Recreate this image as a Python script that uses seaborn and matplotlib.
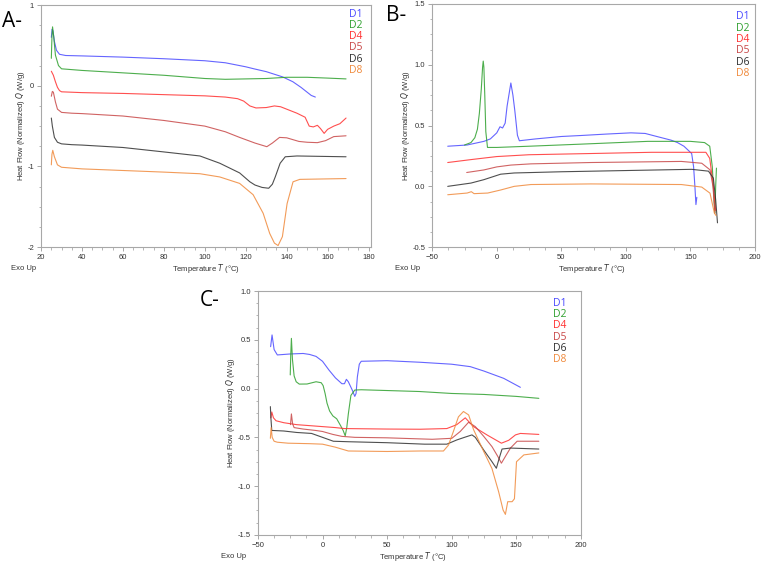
import numpy as np
import pandas as pd
import matplotlib
matplotlib.use("Agg")
import matplotlib.pyplot as plt
from matplotlib.ticker import MultipleLocator
import seaborn as sns

# ---- Panel A data (temperature in C, heat flow in W/g) ----
a_d1_t = [25, 25.4, 25.8, 26.5, 27.5, 29, 32, 40, 60, 80, 100, 110, 120, 124, 130, 138, 143, 147, 150, 152, 154]
a_d1_q = [0.60, 0.70, 0.68, 0.55, 0.44, 0.39, 0.375, 0.37, 0.355, 0.335, 0.31, 0.285, 0.235, 0.21, 0.175, 0.11, 0.05, -0.02, -0.08, -0.12, -0.14]
a_d2_t = [25, 25.3, 25.6, 26.2, 27, 28.5, 30, 40, 60, 80, 100, 110, 120, 130, 140, 150, 160, 169]
a_d2_q = [0.34, 0.60, 0.73, 0.60, 0.38, 0.25, 0.21, 0.19, 0.16, 0.13, 0.09, 0.08, 0.085, 0.09, 0.105, 0.105, 0.095, 0.085]
a_d4_t = [25, 26, 27, 28, 29, 30, 35, 40, 60, 80, 100, 110, 116, 119, 122, 125, 130, 134, 137, 140, 145, 149,
          151, 153, 155, 156.5, 158.3, 160, 163, 166, 169]
a_d4_q = [0.18, 0.13, 0.05, -0.02, -0.06, -0.075, -0.08, -0.085, -0.095, -0.11, -0.125, -0.14, -0.16, -0.19, -0.25,
          -0.275, -0.27, -0.25, -0.26, -0.29, -0.34, -0.39, -0.50, -0.51, -0.49, -0.53, -0.59, -0.54, -0.50, -0.47, -0.40]
a_d5_t = [25, 25.5, 26, 27, 28, 30, 35, 40, 60, 80, 100, 110, 117, 124.5, 130.3, 133, 136.5, 140, 146, 150, 155, 159, 163, 169]
a_d5_q = [-0.13, -0.07, -0.08, -0.20, -0.29, -0.33, -0.34, -0.345, -0.375, -0.43, -0.50, -0.57, -0.64, -0.71, -0.755,
          -0.71, -0.64, -0.645, -0.69, -0.70, -0.705, -0.68, -0.63, -0.62]
a_d6_t = [25, 25.5, 26.5, 28, 30, 35, 40, 60, 80, 97.6, 107.3, 117, 122, 124.5, 128, 131.2, 133, 134.4, 136.8, 139.3, 145, 169]
a_d6_q = [-0.40, -0.50, -0.64, -0.70, -0.72, -0.73, -0.735, -0.765, -0.82, -0.87, -0.96, -1.08, -1.19, -1.23, -1.26,
          -1.27, -1.22, -1.13, -0.96, -0.88, -0.87, -0.88]
a_d8_t = [25, 25.3, 25.7, 26.5, 28, 30, 40, 60, 80, 97.6, 107.3, 117, 123.6, 128.5, 131.7, 134, 135.8, 137.9, 140.2,
          143.1, 146.4, 169]
a_d8_q = [-0.98, -0.85, -0.80, -0.88, -0.98, -1.01, -1.03, -1.05, -1.07, -1.09, -1.13, -1.21, -1.35, -1.58, -1.83,
          -1.95, -1.98, -1.87, -1.46, -1.19, -1.16, -1.15]

# ---- Panel B data ----
b_d1_t = [-38, -23, -10, -5, -2, 0, 2.5, 4.5, 6.5, 8, 10.9, 12.5, 14, 16, 17.5, 30, 50, 65, 85, 104, 115, 124, 135,
          140, 145, 148, 151, 152.5, 153.5, 154.3, 155]
b_d1_q = [0.33, 0.34, 0.37, 0.39, 0.42, 0.44, 0.49, 0.48, 0.52, 0.66, 0.85, 0.75, 0.62, 0.42, 0.375, 0.39, 0.41, 0.418,
          0.43, 0.44, 0.435, 0.41, 0.38, 0.36, 0.33, 0.30, 0.27, 0.16, 0.0, -0.15, -0.09]
b_d2_t = [-25, -20, -17, -15, -13.5, -12, -11, -10.5, -10, -9.3, -8.5, -7.2, -5, 0, 25, 65, 117, 150, 161, 165, 167,
          168.3, 169, 169.6, 170.2]
b_d2_q = [0.34, 0.36, 0.40, 0.47, 0.60, 0.80, 0.98, 1.03, 0.98, 0.75, 0.45, 0.32, 0.32, 0.32, 0.33, 0.347, 0.37, 0.37,
          0.36, 0.33, 0.16, -0.11, -0.22, 0.0, 0.15]
b_d4_t = [-38, -20, 0, 25, 73, 120, 151, 162, 165, 167.8, 169.6]
b_d4_q = [0.196, 0.22, 0.245, 0.26, 0.27, 0.28, 0.28, 0.28, 0.23, 0.0, -0.2]
b_d5_t = [-23.3, -10, 0, 10.9, 26.5, 73, 143, 158.8, 165.2, 167.5, 169]
b_d5_q = [0.114, 0.135, 0.16, 0.175, 0.185, 0.196, 0.205, 0.19, 0.136, 0.0, -0.22]
b_d6_t = [-38, -20, -10, 3, 13.5, 50, 100, 151, 164, 167.8, 169.6, 171]
b_d6_q = [0.0, 0.027, 0.055, 0.1, 0.11, 0.12, 0.13, 0.14, 0.125, 0.068, -0.11, -0.30]
b_d8_t = [-38, -23, -19.7, -17.6, -7, 3, 13.5, 26.5, 73, 143, 158.8, 165.2, 168.6, 169.9]
b_d8_q = [-0.069, -0.055, -0.044, -0.06, -0.055, -0.03, 0.0, 0.015, 0.02, 0.015, -0.006, -0.056, -0.22, -0.24]

# ---- Panel C data ----
c_d1_t = [-40.2, -39.1, -37.5, -35, -25, -15, -10, -5, 0, 5, 10, 15, 17, 18.5, 20, 23, 25, 26, 27, 28.5, 30, 50,
          75.6, 100, 114.5, 125, 140.4, 153.3]
c_d1_q = [0.43, 0.55, 0.40, 0.345, 0.355, 0.36, 0.35, 0.33, 0.28, 0.19, 0.11, 0.05, 0.05, 0.095, 0.07, -0.014, -0.08,
          -0.05, 0.12, 0.25, 0.28, 0.286, 0.27, 0.25, 0.225, 0.18, 0.105, 0.013]
c_d2_t = [-25, -24.6, -24.1, -23.3, -22, -20.4, -18, -12, -5, -1, 0.5, 2, 3.5, 5.5, 8, 11, 14, 16, 17.6, 18.8, 20,
          22, 25, 30, 50, 75, 100, 125, 150, 167.6]
c_d2_q = [0.14, 0.35, 0.515, 0.30, 0.13, 0.07, 0.046, 0.047, 0.07, 0.06, 0.03, -0.05, -0.15, -0.23, -0.28, -0.31,
          -0.38, -0.43, -0.485, -0.40, -0.26, -0.07, -0.015, -0.012, -0.02, -0.03, -0.05, -0.06, -0.08, -0.10]
c_d4_t = [-40, -39.3, -38, -36, -30, -20, -10, 0, 10, 17, 50, 75.6, 96.3, 104, 110.6, 117, 127.4, 138.6, 144.3,
          149.5, 153.3, 167.6]
c_d4_q = [-0.30, -0.24, -0.30, -0.33, -0.35, -0.37, -0.38, -0.39, -0.40, -0.41, -0.415, -0.417, -0.41, -0.37, -0.30,
          -0.39, -0.475, -0.56, -0.53, -0.475, -0.46, -0.47]
c_d5_t = [-24.8, -24.1, -23.2, -22, -15, -5, 0, 8, 15, 25, 50, 75.6, 85, 100.2, 106.7, 113.2, 118.4, 124.9, 131.3,
          136, 138.6, 142.4, 145.6, 150.8, 167.6]
c_d5_q = [-0.37, -0.26, -0.36, -0.40, -0.415, -0.43, -0.44, -0.47, -0.49, -0.50, -0.505, -0.516, -0.52, -0.51, -0.44,
          -0.345, -0.39, -0.49, -0.595, -0.70, -0.765, -0.68, -0.61, -0.54, -0.54]
c_d6_t = [-40.4, -40, -39.3, -38, -30, -20, -8.5, 0, 8.4, 20, 50, 79, 96.3, 104, 110, 115.8, 118.4, 124.9, 131.3,
          134.7, 137, 139.1, 145.6, 167.6]
c_d6_q = [-0.185, -0.30, -0.43, -0.43, -0.435, -0.45, -0.46, -0.50, -0.54, -0.545, -0.555, -0.57, -0.57, -0.527,
          -0.50, -0.475, -0.50, -0.63, -0.75, -0.817, -0.71, -0.62, -0.61, -0.62]
c_d8_t = [-40.4, -39.8, -39.0, -37.5, -35, -26.7, -10, 0, 9.7, 20, 50, 75.6, 93.7, 97.6, 101.4, 105.3, 109.2, 113.2,
          117, 124.9, 131.3, 136.5, 139.9, 141.7, 143.5, 146.9, 148.7, 150.3, 156, 167.6]
c_d8_q = [-0.51, -0.40, -0.50, -0.54, -0.55, -0.56, -0.565, -0.57, -0.60, -0.64, -0.645, -0.64, -0.64, -0.58, -0.44,
          -0.29, -0.235, -0.27, -0.42, -0.645, -0.82, -1.06, -1.245, -1.29, -1.16, -1.16, -1.13, -0.75, -0.68, -0.66]

samples = ["D1", "D2", "D4", "D5", "D6", "D8"]
colors = ["#4a4aff", "#2ea02e", "#ff3030", "#c84848", "#303030", "#f08a3c"]


def build_frame(series):
    """Stack the (temps, values) pairs of one panel into a long table."""
    parts = []
    for name, (t, q) in zip(samples, series):
        parts.append(pd.DataFrame({"T": t, "Q": q, "sample": name}))
    return pd.concat(parts, ignore_index=True)


panels = {
    "A-": build_frame([(a_d1_t, a_d1_q), (a_d2_t, a_d2_q), (a_d4_t, a_d4_q),
                       (a_d5_t, a_d5_q), (a_d6_t, a_d6_q), (a_d8_t, a_d8_q)]),
    "B-": build_frame([(b_d1_t, b_d1_q), (b_d2_t, b_d2_q), (b_d4_t, b_d4_q),
                       (b_d5_t, b_d5_q), (b_d6_t, b_d6_q), (b_d8_t, b_d8_q)]),
    "C-": build_frame([(c_d1_t, c_d1_q), (c_d2_t, c_d2_q), (c_d4_t, c_d4_q),
                       (c_d5_t, c_d5_q), (c_d6_t, c_d6_q), (c_d8_t, c_d8_q)]),
}

# axes placement and scales for each panel
layout = {
    "A-": dict(rect=[0.054, 0.561, 0.433, 0.430], xlim=(20, 181), ylim=(-2, 1),
               xmaj=20, xmin=5, ymaj=1, ymin=0.25, yfmt="{:.0f}",
               leg=(0.935, 0.963), ylab_x=-0.064, exo_x=-0.052, xlab=(0.5, -0.087),
               letter=(0.003, 0.962)),
    "B-": dict(rect=[0.568, 0.561, 0.424, 0.432], xlim=(-50, 200), ylim=(-0.5, 1.5),
               xmaj=50, xmin=12.5, ymaj=0.5, ymin=0.125, yfmt="{:.1f}",
               leg=(0.94, 0.947), ylab_x=-0.084, exo_x=-0.077, xlab=(0.495, -0.087),
               letter=(0.507, 0.972)),
    "C-": dict(rect=[0.339, 0.050, 0.424, 0.433], xlim=(-50, 200), ylim=(-1.5, 1.0),
               xmaj=50, xmin=12.5, ymaj=0.5, ymin=0.125, yfmt="{:.1f}",
               leg=(0.915, 0.951), ylab_x=-0.084, exo_x=-0.075, xlab=(0.48, -0.09),
               letter=(0.262, 0.466)),
}

sns.set_theme(style="white")
plt.rcParams["font.family"] = ["Liberation Sans", "DejaVu Sans"]

fig = plt.figure(figsize=(7.61, 5.63), dpi=100)

for key, df in panels.items():
    cfg = layout[key]
    ax = fig.add_axes(cfg["rect"])
    sns.lineplot(data=df, x="T", y="Q", hue="sample", palette=colors, hue_order=samples,
                 sort=False, estimator=None, legend=False, linewidth=0.8, alpha=0.85, ax=ax)
    ax.set_xlim(*cfg["xlim"])
    ax.set_ylim(*cfg["ylim"])
    ax.xaxis.set_major_locator(MultipleLocator(cfg["xmaj"]))
    ax.xaxis.set_minor_locator(MultipleLocator(cfg["xmin"]))
    ax.yaxis.set_major_locator(MultipleLocator(cfg["ymaj"]))
    ax.yaxis.set_minor_locator(MultipleLocator(cfg["ymin"]))
    ax.yaxis.set_major_formatter(matplotlib.ticker.FuncFormatter(lambda v, p, f=cfg["yfmt"]: f.format(v)))
    ax.tick_params(which="major", direction="out", length=3, width=0.6, color="#999999",
                   labelsize=5.5, labelcolor="#333333", pad=2, bottom=True, left=True)
    ax.tick_params(which="minor", direction="out", length=1.8, width=0.5, color="#999999",
                   bottom=True, left=True)
    for sp in ax.spines.values():
        sp.set_color("#a8a8a8")
        sp.set_linewidth(0.8)

    ax.set_xlabel("Temperature $T$ (°C)", fontsize=5.5, color="#333333")
    ax.xaxis.set_label_coords(*cfg["xlab"])
    ax.xaxis.label.set_va("center")
    ax.set_ylabel("Heat Flow (Normalized) $Q$ (W/g)", fontsize=5.5, color="#333333")
    ax.yaxis.set_label_coords(cfg["ylab_x"], 0.5)
    ax.yaxis.label.set_va("center")
    ax.text(cfg["exo_x"], cfg["xlab"][1], "Exo Up", transform=ax.transAxes, fontsize=5.5,
            color="#333333", ha="center", va="center")

    # coloured sample names in the top right corner
    lx, ly = cfg["leg"]
    for i, (name, col) in enumerate(zip(samples, colors)):
        ax.text(lx, ly - i * 0.0465, name, transform=ax.transAxes, color=col,
                fontsize=7.5, family="Open Sans", ha="left", va="center")

    fig.text(cfg["letter"][0], cfg["letter"][1], key, fontsize=15, family="Open Sans",
             color="black", ha="left", va="center")

fig.savefig("out.png", dpi=100)
